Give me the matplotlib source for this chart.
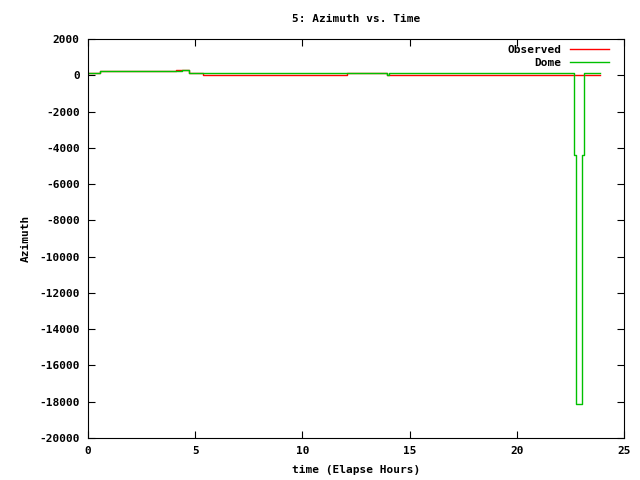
import matplotlib
matplotlib.use("Agg")
import matplotlib.pyplot as plt

# Observed azimuth (step data)
obs_t = [0, 0.56, 1.23, 4.1, 4.73, 5.38, 12.07, 13.93, 23.9]
obs_az = [150, 210, 250, 290, 120, 0, 100, 0, 0]

# Dome azimuth (step data)
dome_t = [0, 0.56, 1.23, 4.4, 4.73, 4.83, 13.93, 14.05, 22.68, 22.75, 22.78,
          23.03, 23.06, 23.12, 23.9]
dome_az = [150, 210, 250, 290, 150, 100, 40, 100, -4400, -13500, -18100,
           -13500, -4400, 100, 100]

plt.rcParams['font.family'] = ['DejaVu Sans Mono']
plt.rcParams['font.size'] = 8
plt.rcParams['font.weight'] = 'bold'
plt.rcParams['axes.unicode_minus'] = False

fig = plt.figure(figsize=(6.4, 4.8), dpi=100)
ax = fig.add_axes([0.1375, 0.0875, 0.8375, 0.83125])

ax.plot(obs_t, obs_az, drawstyle='steps-post', color='#ff0000', lw=1, label='Observed')
ax.plot(dome_t, dome_az, drawstyle='steps-post', color='#00c000', lw=1, label='Dome')

ax.set_xlim(0, 25)
ax.set_ylim(-20000, 2000)
ax.set_xticks(range(0, 26, 5))
ax.set_yticks(range(-20000, 2001, 2000))
ax.tick_params(direction='in', top=True, right=True, length=5, pad=6, labelsize=8)

ax.set_title("5: Azimuth vs. Time", fontsize=8, fontweight='bold', pad=12)
ax.set_xlabel("time (Elapse Hours)", fontsize=8, fontweight='bold', labelpad=6)
ax.set_ylabel("Azimuth", fontsize=8, fontweight='bold', labelpad=6)

ax.legend(loc='upper right', bbox_to_anchor=(0.983, 1.0), frameon=False,
          markerfirst=False, fontsize=8, handlelength=3.5, borderaxespad=0.1,
          labelspacing=0.3)

fig.savefig("out.png", dpi=100)
